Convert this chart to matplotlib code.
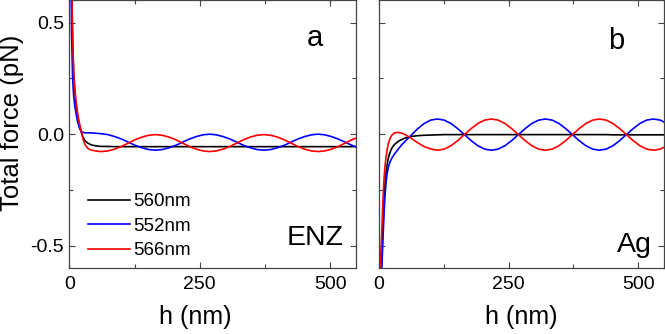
import numpy as np, matplotlib
matplotlib.use('Agg')
import matplotlib.pyplot as plt
from matplotlib.ticker import MultipleLocator

plt.rcParams.update({'font.family': ['Liberation Sans', 'DejaVu Sans'], 'font.size': 14})

# gap h (nm), shared by both panels
h = [0, 2, 4, 6, 8, 10, 12, 14, 16, 18, 20, 23, 26, 30, 35, 40, 45, 50, 56,
     61, 74, 87, 100, 113, 126, 139, 152, 165, 178, 191, 204, 217, 230, 243, 256, 269,
     282, 295, 308, 321, 334, 347, 360, 373, 386, 399, 412, 425, 438, 451, 464, 477,
     490, 503, 516, 529, 542, 555]

# panel a (ENZ), total force in pN
enz_560 = [1.6, 1.1, 0.68, 0.42, 0.27, 0.20, 0.145, 0.11, 0.08, 0.052, 0.03, 0.005, -0.014, -0.030,
           -0.040, -0.046, -0.050, -0.052, -0.054,
           -0.055, -0.055, -0.056, -0.056, -0.056, -0.056, -0.056, -0.056, -0.056, -0.056, -0.056,
           -0.056, -0.056, -0.056, -0.056, -0.056, -0.056, -0.056, -0.056, -0.056, -0.056, -0.056,
           -0.056, -0.056, -0.056, -0.056, -0.056, -0.056, -0.056, -0.056, -0.056, -0.056, -0.056,
           -0.056, -0.056, -0.056, -0.056, -0.056, -0.056]
enz_552 = [1.4, 0.85, 0.45, 0.25, 0.17, 0.13, 0.10, 0.074, 0.052, 0.035, 0.023, 0.013, 0.008, 0.006,
           0.006, 0.006, 0.005, 0.004, 0.003,
           0.002, -0.002, -0.011, -0.022, -0.036, -0.050, -0.061, -0.069, -0.072, -0.069, -0.061,
           -0.050, -0.036, -0.022, -0.011, -0.003, 0.0, -0.003, -0.011, -0.022, -0.036, -0.050,
           -0.061, -0.069, -0.072, -0.069, -0.061, -0.050, -0.036, -0.022, -0.011, -0.003, 0.0,
           -0.003, -0.011, -0.022, -0.036, -0.050, -0.061]
enz_566 = [1.6, 1.1, 0.70, 0.44, 0.28, 0.21, 0.16, 0.12, 0.088, 0.060, 0.040, 0.010, -0.022, -0.048,
           -0.063, -0.070, -0.073, -0.075, -0.077,
           -0.078, -0.075, -0.067, -0.055, -0.040, -0.025, -0.013, -0.005, -0.002, -0.005, -0.013,
           -0.025, -0.040, -0.055, -0.067, -0.075, -0.078, -0.075, -0.067, -0.055, -0.040, -0.025,
           -0.013, -0.005, -0.002, -0.005, -0.013, -0.025, -0.040, -0.055, -0.067, -0.075, -0.078,
           -0.075, -0.067, -0.055, -0.040, -0.025, -0.013]

# panel b (Ag)
ag_560 = [-1.5, -0.95, -0.66, -0.54, -0.42, -0.31, -0.23, -0.175, -0.14, -0.113, -0.094, -0.074, -0.060,
          -0.047, -0.037, -0.029, -0.023, -0.018, -0.014,
          -0.011, -0.007, -0.005, -0.004, -0.003, -0.002, -0.002, -0.002, -0.002, -0.002, -0.002,
          -0.002, -0.002, -0.002, -0.002, -0.002, -0.002, -0.002, -0.002, -0.002, -0.002, -0.002,
          -0.002, -0.002, -0.002, -0.002, -0.002, -0.002, -0.002, -0.002, -0.003, -0.003, -0.003,
          -0.003, -0.003, -0.003, -0.003, -0.003, -0.003]
ag_552 = [-1.6, -1.05, -0.75, -0.60, -0.48, -0.37, -0.28, -0.22, -0.18, -0.155, -0.135, -0.118, -0.105,
          -0.090, -0.075, -0.060, -0.046, -0.034, -0.020,
          -0.008, 0.022, 0.047, 0.063, 0.068, 0.063, 0.048, 0.025, -0.002, -0.029, -0.052,
          -0.067, -0.072, -0.067, -0.052, -0.029, -0.002, 0.025, 0.048, 0.063, 0.068, 0.063,
          0.048, 0.025, -0.002, -0.029, -0.052, -0.067, -0.072, -0.067, -0.052, -0.029, -0.002,
          0.025, 0.048, 0.063, 0.068, 0.063, 0.048]
ag_566 = [-1.4, -0.78, -0.54, -0.43, -0.30, -0.21, -0.145, -0.105, -0.073, -0.048, -0.030, -0.013, -0.003,
          0.005, 0.008, 0.007, 0.004, -0.001, -0.009,
          -0.016, -0.037, -0.055, -0.066, -0.072, -0.067, -0.052, -0.029, -0.002, 0.025, 0.048,
          0.063, 0.068, 0.063, 0.048, 0.025, -0.002, -0.029, -0.052, -0.067, -0.072, -0.067,
          -0.052, -0.029, -0.002, 0.025, 0.048, 0.063, 0.068, 0.063, 0.048, 0.025, -0.002,
          -0.029, -0.052, -0.067, -0.072, -0.067, -0.052]

labels = ['560nm', '552nm', '566nm']
colors = ['black', '#0000FF', '#FF0000']

fig = plt.figure(figsize=(6.65, 3.34), dpi=100)
ax1 = fig.add_axes([0.1045, 0.1976, 0.431, 0.8014])
ax2 = fig.add_axes([0.5695, 0.1976, 0.4295, 0.8014])

for ax, series in [(ax1, [enz_560, enz_552, enz_566]), (ax2, [ag_560, ag_552, ag_566])]:
    for y, c, lab in zip(series, colors, labels):
        ax.plot(h, y, color=c, lw=1.2, label=lab)
    ax.set_xlim(0, 550); ax.set_ylim(-0.6, 0.6)
    ax.set_xticks([0, 250, 500]); ax.set_yticks([-0.5, 0.0, 0.5])
    ax.xaxis.set_minor_locator(MultipleLocator(125))
    ax.yaxis.set_minor_locator(MultipleLocator(0.25))
    ax.tick_params(which='both', direction='in', top=True, right=True, labelsize=14, width=0.8, color='#444444')
    ax.tick_params(which='major', length=4, pad=6)
    ax.tick_params(which='minor', length=3)
    for s in ax.spines.values():
        s.set_linewidth(0.9); s.set_color('#444444')
    ax.set_xlabel('h (nm)', fontsize=18)

ax1.set_yticklabels(['-0.5', '0.0', '0.5'])
ax1.tick_params(axis='y', pad=4)
ax2.set_yticklabels([])
ax1.xaxis.set_label_coords(0.438, -0.14)
ax2.xaxis.set_label_coords(0.5, -0.14)
ax1.set_ylabel('Total force (pN)', fontsize=18.5)
ax1.yaxis.set_label_coords(-0.16, 0.541)

ax1.text(0.857, 0.83, 'a', transform=ax1.transAxes, fontsize=21, ha='center', va='baseline')
ax2.text(0.831, 0.82, 'b', transform=ax2.transAxes, fontsize=21, ha='center', va='baseline')
ax1.text(0.956, 0.086, 'ENZ', transform=ax1.transAxes, fontsize=20.5, ha='right', va='baseline')
ax2.text(0.957, 0.061, 'Ag', transform=ax2.transAxes, fontsize=20.5, ha='right', va='baseline')

ax1.legend(loc='upper left', bbox_to_anchor=(0.066, 0.28), frameon=False, fontsize=13.5,
           handlelength=2.2, handletextpad=0.2, labelspacing=0.4, borderpad=0, borderaxespad=0)

fig.savefig('out.png', dpi=100)
